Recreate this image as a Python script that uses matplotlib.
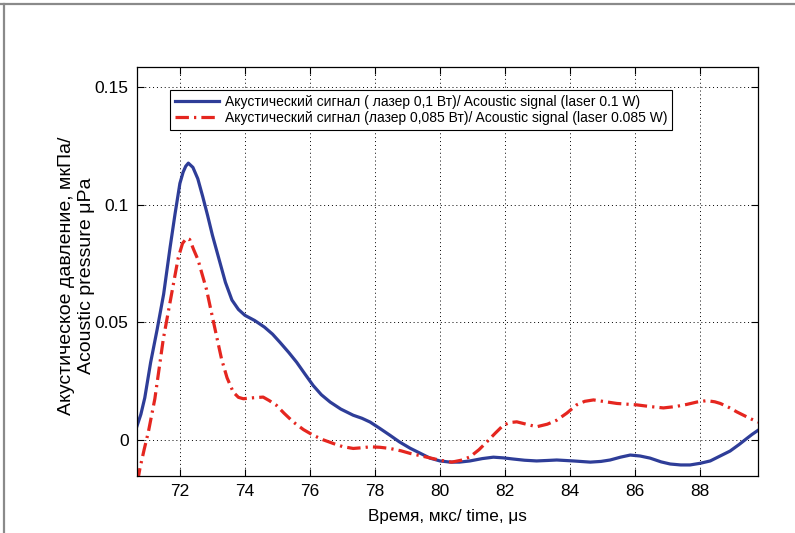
## acoustic signal vs time, two laser powers (MATLAB-style figure)

import matplotlib
matplotlib.use('Agg')
import matplotlib.pyplot as plt
from matplotlib.lines import Line2D

plt.rcParams['font.family'] = ['Liberation Sans', 'DejaVu Sans']

# signal at 0.1 W
t_01 = [70.68, 70.8, 70.92, 71.1, 71.3, 71.5, 71.7, 71.85, 72.0, 72.1,
        72.18, 72.26, 72.4, 72.55, 72.7, 72.85, 73.0, 73.2, 73.4, 73.6,
        73.8, 74.0, 74.3, 74.6, 74.85, 75.08, 75.35, 75.59, 75.85, 76.1,
        76.35, 76.62, 76.95, 77.33, 77.6, 77.85, 78.15, 78.46, 78.75, 79.08,
        79.4, 79.69, 80.0, 80.31, 80.6, 80.92, 81.3, 81.64, 81.95, 82.26,
        82.6, 82.97, 83.3, 83.59, 84.1, 84.62, 84.95, 85.23, 85.55, 85.85,
        86.15, 86.46, 86.8, 87.08, 87.4, 87.69, 88.0, 88.31, 88.6, 88.92,
        89.2, 89.44, 89.6, 89.78]
p_01 = [0.006, 0.011, 0.018, 0.033, 0.047, 0.062, 0.082, 0.096, 0.109, 0.1138,
        0.1163, 0.1176, 0.1158, 0.111, 0.1035, 0.0955, 0.087, 0.077, 0.067, 0.0595,
        0.0555, 0.053, 0.0508, 0.048, 0.045, 0.0415, 0.0372, 0.0331, 0.028, 0.0232,
        0.0193, 0.0162, 0.0132, 0.0106, 0.0093, 0.0077, 0.005, 0.0021, -0.0007, -0.0034,
        -0.0056, -0.0076, -0.0088, -0.0093, -0.0093, -0.0088, -0.0078, -0.0072, -0.0075, -0.008,
        -0.0085, -0.0088, -0.0086, -0.0084, -0.0088, -0.0093, -0.009, -0.0084, -0.0072, -0.0063,
        -0.0067, -0.0076, -0.0092, -0.0101, -0.0105, -0.0105, -0.0098, -0.0088, -0.0068, -0.0046,
        -0.0018, 0.0008, 0.0025, 0.0042]

# signal at 0.085 W
t_085 = [70.7, 70.77, 70.9, 71.03, 71.23, 71.49, 71.65, 71.79, 71.95, 72.08,
         72.2, 72.3, 72.42, 72.56, 72.67, 72.82, 72.97, 73.13, 73.28, 73.45,
         73.64, 73.8, 73.95, 74.25, 74.56, 74.75, 74.97, 75.2, 75.49, 75.8,
         76.1, 76.4, 76.72, 77.0, 77.33, 77.6, 77.85, 78.15, 78.46, 78.8,
         79.08, 79.4, 79.69, 80.0, 80.36, 80.65, 80.92, 81.2, 81.44, 81.7,
         81.95, 82.15, 82.36, 82.65, 82.97, 83.3, 83.59, 83.9, 84.2, 84.45,
         84.72, 85.05, 85.44, 86.05, 86.45, 86.87, 87.25, 87.59, 87.9, 88.2,
         88.45, 88.62, 88.9, 89.13, 89.45, 89.78]
p_085 = [-0.0175, -0.012, -0.004, 0.0035, 0.0176, 0.043, 0.055, 0.0655, 0.0775, 0.0835,
         0.0857, 0.0852, 0.081, 0.0765, 0.0711, 0.0639, 0.0542, 0.044, 0.0345, 0.0265,
         0.0204, 0.0182, 0.0176, 0.018, 0.0183, 0.0168, 0.0148, 0.0115, 0.0077, 0.0045,
         0.0021, 0.0002, -0.0014, -0.0027, -0.0035, -0.0032, -0.0028, -0.003, -0.0035, -0.0045,
         -0.0056, -0.0066, -0.0075, -0.0085, -0.0093, -0.0085, -0.0071, -0.004, -0.0007, 0.003,
         0.0064, 0.0075, 0.0078, 0.0068, 0.0057, 0.0068, 0.0085, 0.0115, 0.015, 0.0165,
         0.0171, 0.0164, 0.0156, 0.015, 0.0143, 0.0137, 0.0143, 0.0152, 0.0162, 0.0168,
         0.0163, 0.0156, 0.0138, 0.012, 0.0098, 0.0076]

xticks = [72, 74, 76, 78, 80, 82, 84, 86, 88]
yticks = [0, 0.05, 0.1, 0.15]
ytick_labels = ['0', '0.05', '0.1', '0.15']

lab_01 = 'Акустический сигнал ( лазер 0,1 Вт)/ Acoustic signal (laser 0.1 W)'
lab_085 = 'Акустический сигнал (лазер 0,085 Вт)/ Acoustic signal (laser 0.085 W)'

col_blue = '#2e3d98'
col_red = '#e5261f'

fig = plt.figure(figsize=(7.95, 5.33), dpi=100)
ax = fig.add_axes([0.1723, 0.1069, 0.7812, 0.7674])

ax.plot(t_01, p_01, color=col_blue, lw=2.3, label=lab_01)
ax.plot(t_085, p_085, color=col_red, lw=2.3, linestyle=(0, (4.2, 1.6, 0.7, 1.6)),
        label=lab_085)

ax.set_xlim(70.68, 89.78)
ax.set_ylim(-0.0152, 0.1584)
ax.set_xticks(xticks)
ax.set_xticklabels([str(v) for v in xticks])
ax.set_yticks(yticks)
ax.set_yticklabels(ytick_labels)
ax.tick_params(direction='in', top=True, right=True, length=5, width=0.8,
               labelsize=12.5, pad=6)
ax.grid(True, linestyle=(0, (1, 3)), color='black', linewidth=0.7)
for s in ax.spines.values():
    s.set_linewidth(0.9)

ax.set_xlabel('Время, мкс/ time, μs', fontsize=12.3, labelpad=7)
ax.set_ylabel('Акустическое давление, мкПа/\nAcoustic pressure μPa',
              fontsize=14, linespacing=1.2)
ax.yaxis.set_label_coords(-0.068, 0.49)

leg = ax.legend(loc='upper left', bbox_to_anchor=(0.053, 0.944), borderaxespad=0,
                fontsize=10, handlelength=3.2, handletextpad=0.4, labelspacing=0.15,
                borderpad=0.35, fancybox=False, framealpha=1, edgecolor='black')
leg.get_frame().set_linewidth(0.8)

# grey frame of the original figure (top and left only)
fig.add_artist(Line2D([0, 1], [1 - 4 / 533, 1 - 4 / 533], color='#8a8a8a', lw=1.6,
                      transform=fig.transFigure))
fig.add_artist(Line2D([4 / 795, 4 / 795], [0, 1 - 4 / 533], color='#8a8a8a', lw=1.6,
                      transform=fig.transFigure))

fig.savefig('out.png', dpi=100)
